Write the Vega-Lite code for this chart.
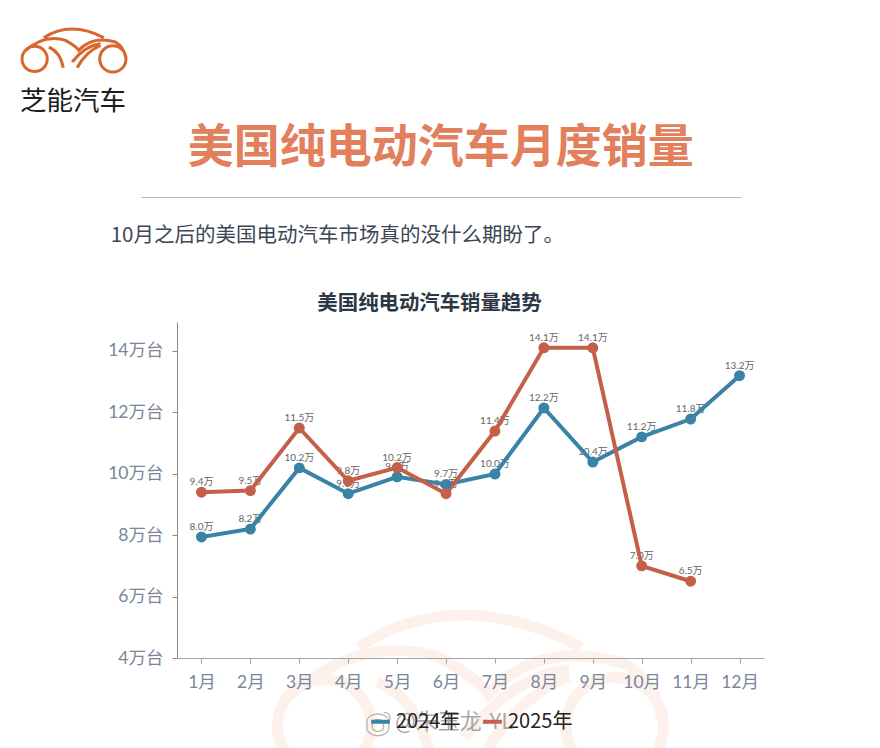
{
  "$schema": "https://vega.github.io/schema/vega-lite/v6.json",
  "background": "#ffffff",
  "padding": {"left": 16, "top": 23, "right": 116, "bottom": 0},
  "bounds": "flush",
  "spacing": 119,
  "config": {
    "view": {"stroke": null},
    "font": "Noto Sans CJK SC",
    "legend": {"layout": {"bottom": {"anchor": "middle", "direction": "horizontal"}}}
  },
  "datasets": {
    "sales": [
      {"month": "1月", "series": "2024年", "value": 7.94, "label": "8.0万"},
      {"month": "2月", "series": "2024年", "value": 8.2, "label": "8.2万"},
      {"month": "3月", "series": "2024年", "value": 10.19, "label": "10.2万"},
      {"month": "4月", "series": "2024年", "value": 9.35, "label": "9.3万"},
      {"month": "5月", "series": "2024年", "value": 9.9, "label": "9.9万"},
      {"month": "6月", "series": "2024年", "value": 9.65, "label": "9.7万"},
      {"month": "7月", "series": "2024年", "value": 9.99, "label": "10.0万"},
      {"month": "8月", "series": "2024年", "value": 12.14, "label": "12.2万"},
      {"month": "9月", "series": "2024年", "value": 10.38, "label": "10.4万"},
      {"month": "10月", "series": "2024年", "value": 11.2, "label": "11.2万"},
      {"month": "11月", "series": "2024年", "value": 11.78, "label": "11.8万"},
      {"month": "12月", "series": "2024年", "value": 13.19, "label": "13.2万"},
      {"month": "1月", "series": "2025年", "value": 9.4, "label": "9.4万"},
      {"month": "2月", "series": "2025年", "value": 9.45, "label": "9.5万"},
      {"month": "3月", "series": "2025年", "value": 11.49, "label": "11.5万"},
      {"month": "4月", "series": "2025年", "value": 9.77, "label": "9.8万"},
      {"month": "5月", "series": "2025年", "value": 10.2, "label": "10.2万"},
      {"month": "6月", "series": "2025年", "value": 9.35, "label": "9.4万"},
      {"month": "7月", "series": "2025年", "value": 11.39, "label": "11.4万"},
      {"month": "8月", "series": "2025年", "value": 14.1, "label": "14.1万"},
      {"month": "9月", "series": "2025年", "value": 14.1, "label": "14.1万"},
      {"month": "10月", "series": "2025年", "value": 7.0, "label": "7.0万"},
      {"month": "11月", "series": "2025年", "value": 6.5, "label": "6.5万"}
    ],
    "emblem": [{"name": "芝能汽车"}],
    "divider": [{"start": -0.061, "end": 0.961}]
  },
  "vconcat": [
    {
      "width": 587,
      "height": 50,
      "title": {"text": "芝能汽车", "orient": "bottom", "anchor": "start", "dx": 4, "offset": 11, "fontSize": 26.5, "fontWeight": "normal", "color": "#1c1c1c"},
      "data": {"name": "emblem"},
      "mark": {
        "type": "point",
        "filled": false,
        "stroke": "#d9652f",
        "strokeWidth": 3,
        "opacity": 1,
        "size": 11025,
        "xOffset": -396.5,
        "yOffset": -3,
        "shape": "M-.99,.17A.24,.24 0 1,1 -.51,.17A.24,.24 0 1,1 -.99,.17ZM.49,.17A.25,.25 0 1,1 .99,.17A.25,.25 0 1,1 .49,.17ZM-.575,-.235Q-.067,-.565 .568,-.235M-.956,.038Q-.575,-.311 -.162,-.184Q.06,-.057 .092,.006Q.346,-.279 .79,-.152Q.95,-.057 .981,.133M-.479,-.057Q-.257,.038 -.206,.337M-.035,.229Q.219,-.089 .505,-.121M.06,.337Q.219,.038 .505,-.089"
      }
    },
    {
      "bounds": "flush",
      "spacing": 124,
      "title": {"text": "美国纯电动汽车月度销量", "anchor": "middle", "dx": 5, "offset": 25, "fontSize": 46, "fontWeight": "bold", "color": "#e27f5c"},
      "vconcat": [
        {
          "width": 587,
          "height": 1,
          "data": {"name": "divider"},
          "mark": {"type": "rule", "color": "#b9b9b9", "strokeWidth": 1.2, "clip": false},
          "encoding": {
            "x": {"field": "start", "type": "quantitative", "scale": {"domain": [0, 1]}, "axis": null},
            "x2": {"field": "end"}
          }
        },
        {
          "bounds": "flush",
          "spacing": 63,
          "title": {"text": "10月之后的美国电动汽车市场真的没什么期盼了。", "anchor": "start", "dx": 3, "offset": 47, "fontSize": 20.5, "fontWeight": "normal", "color": "#3c4654"},
          "vconcat": [
            {
              "width": 587,
              "height": 336,
              "title": {"text": "美国纯电动汽车销量趋势", "anchor": "middle", "dx": -41, "offset": 8, "fontSize": 20.4, "fontWeight": "bold", "color": "#2c3644"},
              "data": {"name": "sales"},
              "encoding": {
                "x": {
                  "field": "month",
                  "type": "nominal",
                  "sort": ["1月", "2月", "3月", "4月", "5月", "6月", "7月", "8月", "9月", "10月", "11月", "12月"],
                  "title": null,
                  "axis": {"zindex": 1, "labelAngle": 0, "labelFont": "Lato, Noto Sans CJK SC", "labelFontSize": 17.5, "labelColor": "#7a869a", "labelPadding": 10, "domainColor": "#a5a5a5", "tickColor": "#a5a5a5", "tickSize": 5, "grid": false}
                },
                "y": {
                  "field": "value",
                  "type": "quantitative",
                  "title": null,
                  "scale": {"domain": [4, 14.94], "nice": false},
                  "axis": {"values": [4, 6, 8, 10, 12, 14], "labelExpr": "datum.value + '万台'", "labelFont": "Lato, Noto Sans CJK SC", "labelFontSize": 17.5, "labelColor": "#7a869a", "labelPadding": 9, "domainColor": "#888888", "tickColor": "#888888", "tickSize": 5, "grid": false}
                },
                "color": {
                  "field": "series",
                  "type": "nominal",
                  "scale": {"domain": ["2024年", "2025年"], "range": ["#3a83a6", "#c4604a"]},
                  "legend": {"title": null, "orient": "bottom", "offset": -87, "symbolType": "stroke", "symbolSize": 350, "symbolStrokeWidth": 4, "labelFontSize": 20, "labelColor": "#222222", "columnPadding": 14}
                }
              },
              "layer": [
                {
                  "data": {"name": "emblem"},
                  "mark": {
                    "type": "point",
                    "filled": false,
                    "stroke": "#fdf1ec",
                    "strokeWidth": 11,
                    "opacity": 1,
                    "size": 152000,
                    "yOffset": 203,
                    "clip": false,
                    "shape": "M-.99,.17A.24,.24 0 1,1 -.51,.17A.24,.24 0 1,1 -.99,.17ZM.49,.17A.25,.25 0 1,1 .99,.17A.25,.25 0 1,1 .49,.17ZM-.575,-.235Q-.067,-.565 .568,-.235M-.956,.038Q-.575,-.311 -.162,-.184Q.06,-.057 .092,.006Q.346,-.279 .79,-.152Q.95,-.057 .981,.133M-.479,-.057Q-.257,.038 -.206,.337M-.035,.229Q.219,-.089 .505,-.121M.06,.337Q.219,.038 .505,-.089"
                  },
                  "encoding": {"x": null, "y": null, "color": null}
                },
                {
                  "mark": {"type": "text", "dy": -10, "fontSize": 10, "font": "Lato, Noto Sans CJK SC", "color": "#666666"},
                  "encoding": {"text": {"field": "label"}, "color": {"value": "#666666"}}
                },
                {"mark": {"type": "line", "strokeWidth": 4}},
                {"mark": {"type": "point", "filled": true, "opacity": 1, "size": 120}}
              ]
            },
            {
              "width": 587,
              "height": 1,
              "title": {"text": "@朱玉龙-YL", "orient": "bottom", "anchor": "start", "dx": 218, "offset": -26, "fontSize": 22, "fontWeight": "normal", "color": "rgba(140,140,140,0.75)"},
              "data": {"name": "emblem"},
              "mark": {
                "type": "point",
                "filled": false,
                "stroke": "rgba(140,140,140,0.7)",
                "strokeWidth": 1.2,
                "opacity": 1,
                "size": 550,
                "xOffset": -92,
                "yOffset": 1,
                "shape": "M-.95,.2A.95,.7 0 1,1 .85,.2A.95,.7 0 1,1 -.95,.2ZM-.5,.25A.5,.35 0 1,1 .4,.25A.5,.35 0 1,1 -.5,.25ZM.45,-.85Q1,-.9 1,-.2"
              }
            }
          ]
        }
      ]
    }
  ]
}
